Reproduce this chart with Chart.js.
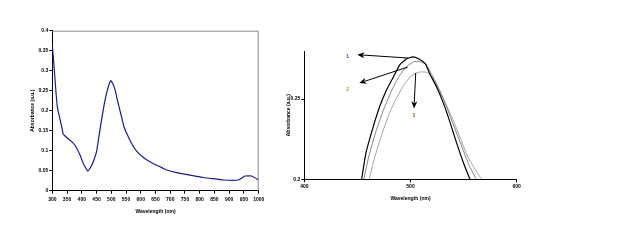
<!DOCTYPE html>
<html>
<head>
<meta charset="utf-8">
<script src="https://cdn.jsdelivr.net/npm/chart.js@4"></script>
<style>
  body { margin: 0; background: #fff; width: 618px; height: 245px; position: relative; overflow: hidden; }
  .box { position: absolute; top: 0; height: 245px; }
</style>
</head>
<body>
<div class="box" style="left:0;width:300px"><canvas id="specLeft"></canvas></div>
<div class="box" style="left:270px;width:348px"><canvas id="specRight"></canvas></div>
<script>
// left panel: full spectrum
const wave_full = [300, 306, 311, 317, 324, 332, 337, 349, 366, 380, 394, 405, 414, 420, 428, 439, 450, 458, 467, 479, 490, 498, 505, 513, 522, 532, 543, 555, 569, 586, 609, 631, 660, 688, 722, 767, 812, 858, 880, 931, 954, 976, 1000];
const abs_full  = [0.364, 0.31, 0.26, 0.21, 0.185, 0.16, 0.142, 0.133, 0.1225, 0.11, 0.089, 0.068, 0.056, 0.049, 0.056, 0.0725, 0.0975, 0.135, 0.177, 0.227, 0.26, 0.275, 0.268, 0.252, 0.2225, 0.193, 0.16, 0.139, 0.118, 0.099, 0.083, 0.0725, 0.0617, 0.0517, 0.045, 0.039, 0.033, 0.029, 0.0267, 0.0267, 0.0367, 0.0367, 0.0267];

// right panel: zoom on the peak, three samples
const wave_1 = [454, 458, 465, 471, 477.5, 484, 490, 496, 502, 508, 514, 518, 525, 531, 537, 543, 550, 556];
const abs_1  = [0.2, 0.2163, 0.233, 0.2454, 0.2558, 0.264, 0.2715, 0.275, 0.2763, 0.275, 0.272, 0.266, 0.257, 0.2475, 0.236, 0.2235, 0.21, 0.2];
const wave_2 = [456, 461, 468, 475, 482, 489, 496, 503, 508, 514, 520, 527, 534, 541, 548, 555, 562];
const abs_2  = [0.2, 0.215, 0.231, 0.244, 0.255, 0.264, 0.27, 0.2733, 0.2735, 0.272, 0.2655, 0.256, 0.245, 0.233, 0.221, 0.209, 0.2];
const wave_3 = [461, 466, 473, 480, 487, 494, 500, 506, 511, 516, 521, 527, 533, 540, 547, 554, 561, 567];
const abs_3  = [0.2, 0.213, 0.228, 0.241, 0.251, 0.259, 0.264, 0.2665, 0.267, 0.2665, 0.263, 0.256, 0.2475, 0.237, 0.2255, 0.214, 0.206, 0.2];

// annotation arrows (data coords) and the sample numbers
const arrowFrom = [[497.9, 0.2756], [497.4, 0.270], [504.9, 0.2663]];
const arrowTo   = [[449.9, 0.2777], [451.8, 0.260], [503.3, 0.2442]];
const sampleLabels = ['1', '2', '3'];
const labelPos  = [[440.9, 0.2766], [440.9, 0.2558], [503.3, 0.2396]];
const labelColors = ['#3a4a8a', '#b8902a', '#8a7030'];

const yTitle = 'Absorbance (a.u.)';
const xTitle = 'Wavelength (nm)';

const tickFont = { family: 'Liberation Sans', size: 5, weight: 'bold' };

function pts(xs, ys) {
  return xs.map((x, i) => ({ x: x, y: ys[i] }));
}
function fmt(v) {
  return Number(v.toFixed(2)).toString();
}

function axis(min, max, step, pad, size, titleText, isY) {
  return {
    type: 'linear',
    min: min,
    max: max,
    grid: { display: true, drawOnChartArea: false, drawTicks: true, tickLength: 3, color: '#000', lineWidth: 1 },
    border: { display: true, color: '#000', width: 1 },
    ticks: { stepSize: step, includeBounds: false, color: '#000', font: tickFont, padding: pad, maxRotation: 0, autoSkip: false, callback: fmt },
    title: { display: true, text: titleText, color: '#000', font: tickFont, padding: 0 },
    afterFit: function (s) { if (isY) s.width = size; else s.height = size; }
  };
}

// gray box on top/right of the left plot
const boxBorder = {
  id: 'boxBorder',
  afterDraw(chart) {
    const a = chart.chartArea, c = chart.ctx;
    c.save();
    c.strokeStyle = '#8c8c8c';
    c.lineWidth = 1;
    c.beginPath();
    c.moveTo(a.left, a.top + 0.5);
    c.lineTo(a.right - 0.5, a.top + 0.5);
    c.lineTo(a.right - 0.5, a.bottom);
    c.stroke();
    c.restore();
  }
};

const arrows = {
  id: 'arrows',
  afterDatasetsDraw(chart) {
    const sx = chart.scales.x, sy = chart.scales.y, c = chart.ctx;
    c.save();
    c.strokeStyle = '#000';
    c.fillStyle = '#000';
    c.lineWidth = 1;
    arrowFrom.forEach((f, i) => {
      const x1 = sx.getPixelForValue(f[0]), y1 = sy.getPixelForValue(f[1]);
      const x2 = sx.getPixelForValue(arrowTo[i][0]), y2 = sy.getPixelForValue(arrowTo[i][1]);
      const ang = Math.atan2(y2 - y1, x2 - x1);
      const hl = 7, hw = 3;
      c.beginPath();
      c.moveTo(x1, y1);
      c.lineTo(x2 - Math.cos(ang) * hl * 0.8, y2 - Math.sin(ang) * hl * 0.8);
      c.stroke();
      c.beginPath();
      c.moveTo(x2, y2);
      c.lineTo(x2 - Math.cos(ang) * hl - Math.sin(ang) * hw, y2 - Math.sin(ang) * hl + Math.cos(ang) * hw);
      c.lineTo(x2 - Math.cos(ang) * hl * 0.75, y2 - Math.sin(ang) * hl * 0.75);
      c.lineTo(x2 - Math.cos(ang) * hl + Math.sin(ang) * hw, y2 - Math.sin(ang) * hl - Math.cos(ang) * hw);
      c.closePath();
      c.fill();
    });
    c.font = 'bold 5px "Liberation Sans"';
    c.textAlign = 'center';
    c.textBaseline = 'middle';
    sampleLabels.forEach((t, i) => {
      c.fillStyle = labelColors[i];
      c.fillText(t, sx.getPixelForValue(labelPos[i][0]), sy.getPixelForValue(labelPos[i][1]));
    });
    c.restore();
  }
};

new Chart(document.getElementById('specLeft'), {
  type: 'line',
  data: {
    datasets: [{
      data: pts(wave_full, abs_full),
      borderColor: '#1c1c8a',
      borderWidth: 1.2,
      pointRadius: 0,
      tension: 0.15,
      fill: false
    }]
  },
  options: {
    responsive: true,
    maintainAspectRatio: false,
    animation: false,
    layout: { padding: { left: 30, right: 41.3, top: 30.7, bottom: 30 } },
    plugins: { legend: { display: false }, tooltip: { enabled: false } },
    scales: {
      x: axis(300, 1000, 50, 3, 24.3, xTitle, false),
      y: axis(0, 0.4, 0.05, 1, 22.3, yTitle, true)
    }
  },
  plugins: [boxBorder]
});

new Chart(document.getElementById('specRight'), {
  type: 'line',
  data: {
    datasets: [
      { data: pts(wave_1, abs_1), borderColor: '#000', borderWidth: 1.2, pointRadius: 0, tension: 0.15, fill: false },
      { data: pts(wave_2, abs_2), borderColor: '#777', borderWidth: 0.9, pointRadius: 0, tension: 0.15, fill: false },
      { data: pts(wave_3, abs_3), borderColor: '#999', borderWidth: 0.9, pointRadius: 0, tension: 0.15, fill: false }
    ]
  },
  options: {
    responsive: true,
    maintainAspectRatio: false,
    animation: false,
    layout: { padding: { left: 16, right: 101.3, top: 51, bottom: 43 } },
    plugins: { legend: { display: false }, tooltip: { enabled: false } },
    scales: {
      x: axis(400, 600, 100, 1, 22.7, xTitle, false),
      y: axis(0.2, 0.28, 0.05, 1, 18.3, yTitle, true)
    }
  },
  plugins: [arrows]
});
</script>
</body>
</html>
